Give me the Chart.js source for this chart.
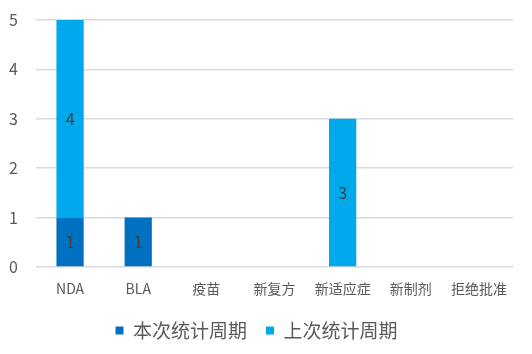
<!DOCTYPE html>
<html>
<head>
<meta charset="utf-8">
<script src="https://cdn.jsdelivr.net/npm/chart.js@4"></script>
<style>
  body { margin: 0; background: #fff; }
  #wrap { width: 532px; height: 354px; }
</style>
</head>
<body>
<div id="wrap"><canvas id="approvalChart"></canvas></div>
<script>
// categories and values
const categories = ['NDA', 'BLA', '疫苗', '新复方', '新适应症', '新制剂', '拒绝批准'];
const currentPeriod = [1, 1, 0, 0, 0, 0, 0];   // 本次统计周期
const lastPeriod = [4, 0, 0, 0, 3, 0, 0];      // 上次统计周期
const yTicks = [0, 1, 2, 3, 4, 5];

const textColor = '#595959';
const fontFamily = '"Noto Sans CJK SC", "Open Sans", sans-serif';

// draw the value in the middle of each non-zero bar
const barValues = {
    id: 'barValues',
    afterDatasetsDraw(chart) {
        const ctx = chart.ctx;
        ctx.save();
        ctx.fillStyle = '#404040';
        ctx.font = '16px ' + fontFamily;
        ctx.textAlign = 'center';
        ctx.textBaseline = 'middle';
        chart.data.datasets.forEach((ds, i) => {
            chart.getDatasetMeta(i).data.forEach((bar, j) => {
                const v = ds.data[j];
                if (!v) return;
                const mid = (bar.y + bar.base) / 2;
                ctx.fillText(String(v), bar.x, mid);
            });
        });
        ctx.restore();
    }
};

new Chart(document.getElementById('approvalChart'), {
    type: 'bar',
    data: {
        labels: categories,
        datasets: [{
            label: '本次统计周期',
            data: currentPeriod,
            backgroundColor: '#0070C0',
            categoryPercentage: 0.8,
            barPercentage: 0.5
        }, {
            label: '上次统计周期',
            data: lastPeriod,
            backgroundColor: '#00A9EB',
            categoryPercentage: 0.8,
            barPercentage: 0.5
        }]
    },
    options: {
        responsive: true,
        maintainAspectRatio: false,
        animation: false,
        layout: { padding: { top: 20, right: 19, left: 0, bottom: 4 } },
        scales: {
            x: {
                stacked: true,
                grid: { display: false },
                border: { display: false },
                afterFit: axis => { axis.height = 35; axis.paddingLeft = 0; axis.paddingRight = 0; },
                ticks: {
                    color: textColor,
                    font: { size: 14, family: fontFamily },
                    padding: 5,
                    maxRotation: 0
                }
            },
            y: {
                stacked: true,
                min: 0,
                max: 5,
                afterBuildTicks: axis => { axis.ticks = yTicks.map(v => ({ value: v })); },
                afterFit: axis => { axis.width = 36; axis.paddingTop = 0; axis.paddingBottom = 0; },
                grid: { color: '#D9D9D9', lineWidth: 1.5, drawTicks: false },
                border: { display: false },
                ticks: {
                    color: textColor,
                    font: { size: 16, family: fontFamily },
                    padding: 18
                }
            }
        },
        plugins: {
            legend: {
                position: 'bottom',
                labels: {
                    color: textColor,
                    font: { size: 19, family: fontFamily },
                    boxWidth: 8,
                    boxHeight: 8,
                    padding: 19
                }
            },
            tooltip: { enabled: false }
        }
    },
    plugins: [barValues]
});
</script>
</body>
</html>
